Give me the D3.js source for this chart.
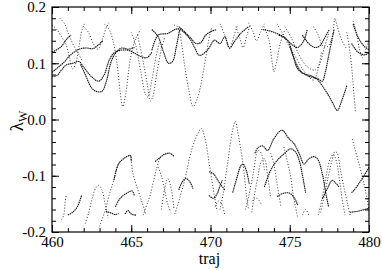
<!DOCTYPE html>
<html>
<head>
<meta charset="utf-8">
<script src="https://cdn.jsdelivr.net/npm/d3@7"></script>
<style>
  body { margin: 0; background: #fff; }
</style>
</head>
<body>
<svg id="chart" width="382" height="270"></svg>
<script>
// tick values
var xMajor = [460, 465, 470, 475, 480];
var xMinor = d3.range(460, 481, 1);
var yMajor = [-0.2, -0.1, 0.0, 0.1, 0.2];
var yMinor = d3.range(-10, 11).map(function (i) { return i * 0.02; });

// eigenvalue trajectories [traj, lambda]
// densely sampled stretches (look solid)
var upperSolid = [
  [[460,0.12],[460.3,0.124],[460.6,0.13],[460.9,0.142],[461.2,0.15]],
  [[460,0.084],[460.4,0.093],[460.8,0.103],[461.1,0.113],[461.4,0.12],[461.8,0.126],[462.2,0.127],[462.6,0.126],[462.9,0.132],[463.2,0.14]],
  [[460,0.077],[460.3,0.078],[460.6,0.088],[460.9,0.097],[461.3,0.1],[461.7,0.103],[462.0,0.093],[462.5,0.076],[462.95,0.068],[463.3,0.08],[463.6,0.105],[463.9,0.118],[464.3,0.123],[464.8,0.123],[465.2,0.118],[465.6,0.112],[466.0,0.11],[466.3,0.12]],
  [[461.8,0.098],[462.1,0.08],[462.5,0.056],[462.8,0.05],[463.15,0.05],[463.45,0.07],[463.7,0.1],[464.0,0.118],[464.4,0.127],[464.8,0.125],[465.2,0.128]],
  [[466.3,0.123],[466.7,0.15],[467.3,0.153],[467.95,0.161],[468.6,0.147],[469.0,0.128],[469.3,0.114],[469.8,0.123],[470.25,0.141],[470.6,0.135],[470.9,0.147],[471.2,0.127],[471.5,0.138],[471.9,0.153],[472.4,0.165]],
  [[466.3,0.16],[466.7,0.147],[467.0,0.123],[467.35,0.1],[467.6,0.103],[467.85,0.13],[468.05,0.16]],
  [[468.0,0.165],[468.4,0.155],[468.8,0.143],[469.1,0.135],[469.4,0.137],[469.7,0.15],[470.0,0.156],[470.4,0.16]],
  [[473.3,0.16],[474.0,0.155],[474.85,0.141],[475.2,0.115],[475.5,0.09],[476.1,0.078],[476.7,0.072],[477.0,0.062],[477.4,0.045],[477.7,0.03],[478.0,0.016],[478.3,0.035],[478.6,0.06]],
  [[474.3,0.15],[474.6,0.147],[475.2,0.132],[475.5,0.128],[475.9,0.141],[476.1,0.16]],
  [[475.8,0.15],[476.2,0.135],[476.6,0.128],[476.9,0.131],[477.2,0.145],[477.5,0.16]],
  [[475.0,0.13],[475.4,0.1],[475.8,0.083],[476.3,0.078],[476.8,0.072],[477.05,0.068],[477.25,0.085],[477.5,0.12],[477.8,0.16]],
  [[479.0,0.17],[479.3,0.147],[479.7,0.13],[480,0.124]],
  [[478.9,0.135],[479.3,0.12],[479.7,0.115],[480,0.118]]
];

// sparsely sampled stretches (look dotted)
var upperDotted = [
  [[460,0.168],[460.3,0.16],[460.6,0.147],[460.9,0.132],[461.1,0.11],[461.3,0.09],[461.5,0.1],[461.7,0.13],[461.9,0.16],[462.05,0.17]],
  [[460.5,0.18],[460.8,0.17],[461.0,0.155],[461.3,0.135],[461.6,0.12],[461.9,0.105]],
  [[462.0,0.165],[462.3,0.155],[462.6,0.135],[462.9,0.125],[463.2,0.145],[463.45,0.165],[463.6,0.172]],
  [[463.3,0.17],[463.6,0.16],[463.85,0.14],[464.1,0.1],[464.3,0.05],[464.46,0.023],[464.65,0.045],[464.85,0.09],[465.05,0.123],[465.3,0.145],[465.6,0.16]],
  [[465.0,0.155],[465.3,0.13],[465.6,0.085],[465.9,0.045],[466.05,0.04],[466.3,0.07],[466.55,0.11],[466.8,0.14]],
  [[465.4,0.15],[465.7,0.11],[466.0,0.065],[466.2,0.033],[466.35,0.04],[466.6,0.08],[466.9,0.125],[467.1,0.145]],
  [[467.7,0.168],[467.95,0.164],[468.2,0.13],[468.4,0.09],[468.65,0.05],[468.9,0.023],[469.2,0.04],[469.45,0.07],[469.7,0.11],[469.95,0.15],[470.1,0.165]],
  [[470.6,0.17],[470.9,0.15],[471.2,0.126],[471.5,0.15],[471.7,0.168]],
  [[471.6,0.165],[471.85,0.145],[472.05,0.128],[472.3,0.15],[472.5,0.168]],
  [[472.4,0.172],[472.7,0.155],[472.9,0.14],[473.15,0.155],[473.4,0.17]],
  [[473.4,0.165],[473.7,0.14],[473.9,0.1],[474.0,0.085],[474.15,0.1],[474.4,0.135],[474.7,0.16]],
  [[474.2,0.17],[474.6,0.15],[475.0,0.128],[475.4,0.11],[475.8,0.09],[476.2,0.076],[476.5,0.07],[476.8,0.09],[477.0,0.12]],
  [[474.7,0.165],[475.1,0.145],[475.5,0.12],[475.9,0.1],[476.3,0.09],[476.6,0.088],[476.9,0.1],[477.2,0.13],[477.5,0.155]],
  [[476.5,0.165],[476.8,0.15],[477.1,0.13],[477.4,0.13],[477.7,0.15],[477.85,0.18],[478.0,0.165],[478.3,0.14],[478.6,0.125]],
  [[478.6,0.155],[478.8,0.12],[478.95,0.08],[479.05,0.045],[479.15,0.012]],
  [[479.0,0.175],[479.2,0.155],[479.4,0.125],[479.6,0.11],[479.8,0.125],[480,0.14]]
];

var lowerSolid = [
  [[463.9,-0.108],[464.2,-0.079],[464.5,-0.07],[464.94,-0.064],[465.0,-0.075]],
  [[464.0,-0.155],[464.2,-0.144],[464.5,-0.135],[464.84,-0.129],[465.05,-0.127],[465.2,-0.135]],
  [[463.4,-0.163],[463.7,-0.166],[464.0,-0.169],[464.2,-0.167]],
  [[464.6,-0.168],[464.8,-0.162],[465.0,-0.168],[465.3,-0.17]],
  [[461.0,-0.17],[461.3,-0.165],[461.6,-0.155],[461.87,-0.135]],
  [[466.5,-0.075],[466.8,-0.068],[467.1,-0.062],[467.45,-0.06],[467.7,-0.066]],
  [[468.0,-0.125],[468.2,-0.112],[468.45,-0.105],[468.7,-0.111],[468.9,-0.123]],
  [[469.9,-0.093],[470.2,-0.097],[470.5,-0.11],[470.7,-0.118],[470.9,-0.125]],
  [[469.9,-0.135],[470.2,-0.14],[470.45,-0.13],[470.6,-0.118],[470.75,-0.108]],
  [[471.4,-0.13],[471.7,-0.1],[471.9,-0.083],[472.05,-0.079],[472.25,-0.09],[472.45,-0.115]],
  [[472.8,-0.06],[473.0,-0.05],[473.3,-0.047],[473.6,-0.055],[474.0,-0.034],[474.5,-0.019],[474.95,-0.034],[475.27,-0.043],[475.6,-0.061],[475.9,-0.079],[476.2,-0.07],[476.5,-0.066],[476.75,-0.07],[477.05,-0.096],[477.3,-0.135],[477.45,-0.155]],
  [[473.4,-0.12],[473.8,-0.09],[474.2,-0.073],[474.64,-0.061],[475.06,-0.052],[475.37,-0.058],[475.6,-0.073],[475.8,-0.099],[476.0,-0.13]],
  [[474.2,-0.137],[474.6,-0.131],[475.0,-0.131],[475.3,-0.14],[475.5,-0.152]],
  [[477.05,-0.141],[477.37,-0.123],[477.68,-0.108],[477.9,-0.113],[478.1,-0.12]],
  [[478.9,-0.13],[479.05,-0.126],[479.5,-0.108],[479.9,-0.09],[480,-0.085]],
  [[478.8,-0.165],[479.3,-0.163],[479.7,-0.16],[480,-0.158]]
];

var lowerDotted = [
  [[460.6,-0.178],[460.74,-0.17],[460.84,-0.144],[460.9,-0.135]],
  [[462.1,-0.185],[462.3,-0.167],[462.5,-0.145],[462.75,-0.122],[462.95,-0.117],[463.15,-0.125],[463.35,-0.15],[463.55,-0.175]],
  [[463.0,-0.19],[463.36,-0.161],[463.65,-0.13],[463.9,-0.108],[464.2,-0.079],[464.5,-0.07],[464.94,-0.064],[465.0,-0.075],[465.1,-0.095],[465.36,-0.12],[465.68,-0.147],[465.9,-0.167]],
  [[465.76,-0.17],[466.0,-0.15],[466.2,-0.134],[466.4,-0.11],[466.6,-0.087],[466.8,-0.069]],
  [[466.7,-0.085],[466.9,-0.1],[467.1,-0.125],[467.3,-0.15],[467.5,-0.165]],
  [[466.9,-0.16],[467.1,-0.125],[467.3,-0.105],[467.5,-0.12],[467.7,-0.16]],
  [[467.75,-0.168],[467.95,-0.15],[468.37,-0.108],[468.8,-0.055],[469.2,-0.025],[469.42,-0.016],[469.63,-0.031],[469.95,-0.084],[470.26,-0.138],[470.4,-0.16]],
  [[470.6,-0.16],[470.8,-0.132],[471.1,-0.073],[471.4,-0.019],[471.57,-0.003],[471.7,-0.019],[472.05,-0.079],[472.26,-0.132],[472.4,-0.16]],
  [[472.2,-0.16],[472.4,-0.138],[472.7,-0.095],[473.0,-0.055],[473.2,-0.06],[473.4,-0.09]],
  [[472.6,-0.165],[472.8,-0.13],[473.0,-0.1],[473.2,-0.075],[473.4,-0.07],[473.6,-0.1],[473.8,-0.14]],
  [[474.64,-0.049],[474.85,-0.075],[475.06,-0.102],[475.2,-0.13],[475.37,-0.156],[475.5,-0.175]],
  [[473.8,-0.06],[474.0,-0.079],[474.15,-0.105],[474.3,-0.132],[474.45,-0.155]],
  [[476.95,-0.165],[477.15,-0.14],[477.4,-0.105],[477.65,-0.075],[477.85,-0.057],[478.0,-0.06],[478.2,-0.09],[478.45,-0.125],[478.65,-0.15],[478.8,-0.17]],
  [[476.8,-0.17],[477.05,-0.14],[477.3,-0.1],[477.55,-0.07],[477.75,-0.062],[477.95,-0.075],[478.15,-0.11],[478.35,-0.15],[478.5,-0.17]],
  [[478.95,-0.035],[479.05,-0.046],[479.37,-0.079],[479.68,-0.114],[479.9,-0.145],[480,-0.16]],
  [[475.8,-0.17],[476.0,-0.16],[476.2,-0.17]],
  [[470.3,-0.155],[470.5,-0.145],[470.7,-0.15],[470.9,-0.17]],
  [[472.6,-0.145],[472.9,-0.14],[473.2,-0.15]]
];

var serif = "'Liberation Serif'";
var margin = {top: 7, right: 13, bottom: 38, left: 52};
var width = 382, height = 270;

var svg = d3.select("#chart");

var x = d3.scaleLinear().domain([460, 480]).range([margin.left, width - margin.right]);
var y = d3.scaleLinear().domain([-0.2, 0.2]).range([height - margin.bottom, margin.top]);

svg.append("clipPath").attr("id", "plot-clip")
  .append("rect")
  .attr("x", margin.left).attr("y", margin.top)
  .attr("width", x(480) - x(460)).attr("height", y(-0.2) - y(0.2));

var line = d3.line()
  .x(function (d) { return x(d[0]); })
  .y(function (d) { return y(d[1]); })
  .curve(d3.curveCatmullRom.alpha(0.5));

var curves = svg.append("g").attr("clip-path", "url(#plot-clip)");

function drawSet(set, cls, dash, sw, col) {
  curves.selectAll("path." + cls)
    .data(set)
    .enter().append("path")
    .attr("class", cls)
    .attr("d", line)
    .attr("fill", "none")
    .attr("stroke", col)
    .attr("stroke-width", sw)
    .attr("stroke-dasharray", dash);
}

drawSet(upperDotted, "ud", "1,1.9", 0.9, "#222");
drawSet(lowerDotted, "ld", "1,1.9", 0.9, "#222");
drawSet(upperSolid, "us", "1.5,0.6", 1.1, "#111");
drawSet(lowerSolid, "ls", "1.5,0.6", 1.1, "#111");

// axes, ticks pointing inward on all four sides
var fmt = function (d) { return d.toFixed(1); };

function addAxis(axisFn, scale, pos, major, minor, labels) {
  var g = svg.append("g").attr("transform", pos);
  g.call(axisFn(scale).tickValues(minor).tickSize(-4).tickFormat(""));
  g.select(".domain").remove();
  var gm = svg.append("g").attr("transform", pos);
  gm.call(axisFn(scale).tickValues(major).tickSize(-7).tickPadding(6)
    .tickFormat(labels ? labels : ""));
  gm.select(".domain").remove();
  return gm;
}

var bottom = addAxis(d3.axisBottom, x, "translate(0," + y(-0.2) + ")", xMajor, xMinor, function (d) { return d; });
bottom.selectAll("text").attr("font-size", 15).attr("dy", "0.66em").attr("y", 5);
addAxis(d3.axisTop, x, "translate(0," + y(0.2) + ")", xMajor, xMinor, null);
var left = addAxis(d3.axisLeft, y, "translate(" + x(460) + ",0)", yMajor, yMinor, fmt);
left.selectAll("text").attr("font-size", 15);
addAxis(d3.axisRight, y, "translate(" + x(480) + ",0)", yMajor, yMinor, null);

svg.selectAll(".tick line").attr("stroke", "#000");

svg.append("rect")
  .attr("x", x(460)).attr("y", y(0.2))
  .attr("width", x(480) - x(460)).attr("height", y(-0.2) - y(0.2))
  .attr("fill", "none").attr("stroke", "#000").attr("stroke-width", 1.2);

svg.append("text")
  .attr("x", (x(460) + x(480)) / 2 - 1)
  .attr("y", 264)
  .attr("text-anchor", "middle")
  .attr("font-size", 16)
  .text("traj");

var yl = svg.append("text")
  .attr("transform", "translate(23,121) rotate(-90)")
  .attr("text-anchor", "middle")
  .attr("font-size", 19);
yl.append("tspan").text("λ");
yl.append("tspan").attr("font-size", 12).attr("dy", 4).text("W");

svg.selectAll("text").style("font-family", serif).attr("fill", "#000");
</script>
</body>
</html>
